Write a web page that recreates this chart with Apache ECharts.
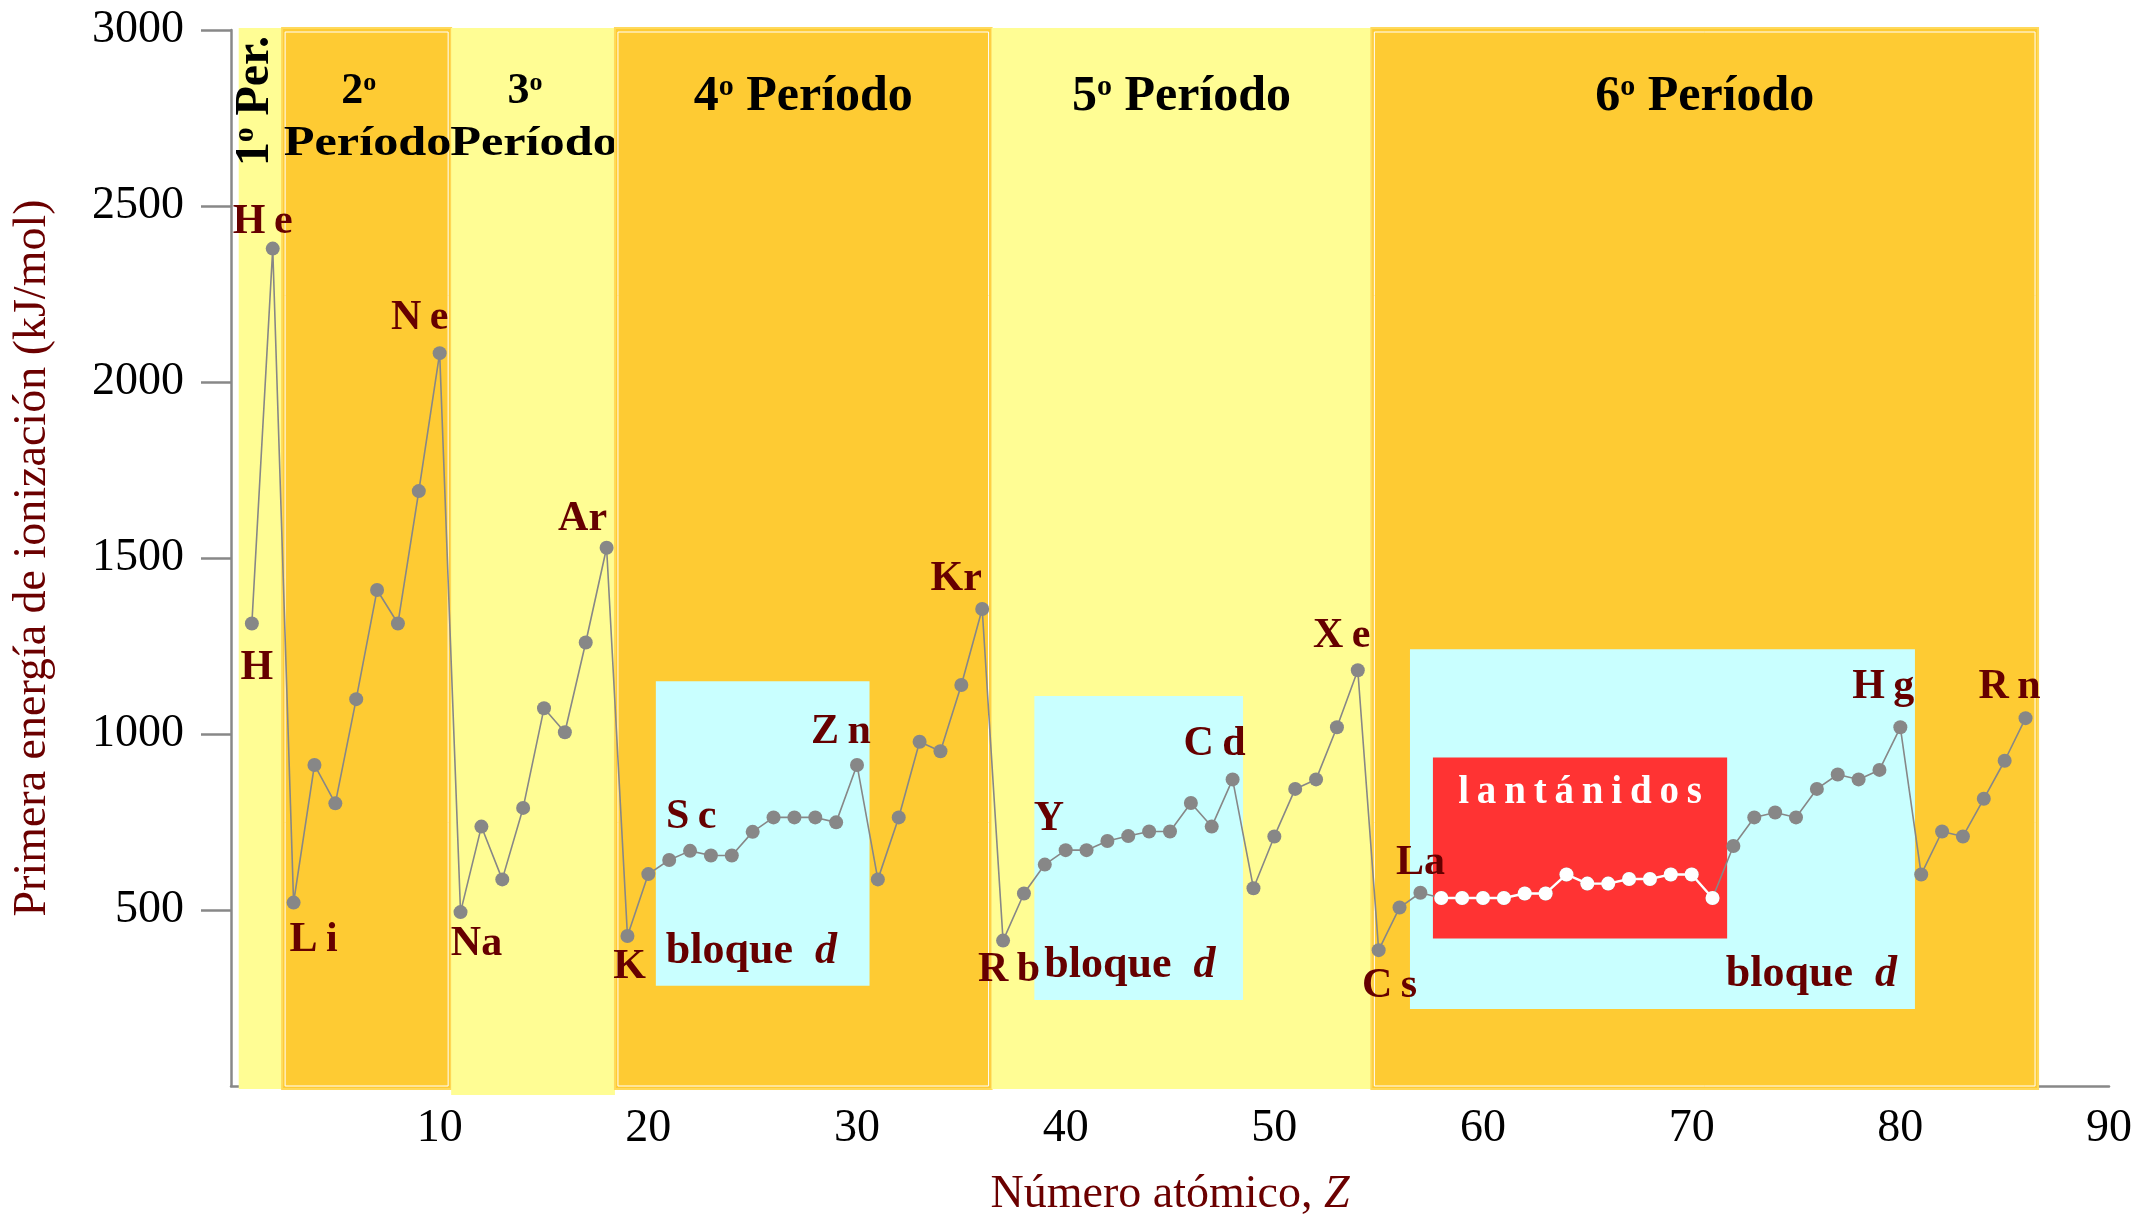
<!DOCTYPE html>
<html>
<head>
<meta charset="utf-8">
<script src="https://cdn.jsdelivr.net/npm/echarts@6/dist/echarts.min.js"></script>
<style>
  html, body { margin: 0; padding: 0; background: #ffffff; }
  #chart { width: 2141px; height: 1223px; }
</style>
</head>
<body>
<div id="chart"></div>
<script>
// ---- Data: first ionization energy (kJ/mol) by atomic number ----
const atomicNumber = [
  1, 2, 3, 4, 5, 6, 7, 8, 9, 10, 11, 12, 13, 14, 15, 16, 17, 18,
  19, 20, 21, 22, 23, 24, 25, 26, 27, 28, 29, 30, 31, 32, 33, 34, 35, 36,
  37, 38, 39, 40, 41, 42, 43, 44, 45, 46, 47, 48, 49, 50, 51, 52, 53, 54,
  55, 56, 57, 58, 59, 60, 61, 62, 63, 64, 65, 66, 67, 68, 69, 70, 71,
  72, 73, 74, 75, 76, 77, 78, 79, 80, 81, 82, 83, 84, 85, 86
];
const elementSymbol = [
  'H', 'He', 'Li', 'Be', 'B', 'C', 'N', 'O', 'F', 'Ne', 'Na', 'Mg', 'Al', 'Si', 'P', 'S', 'Cl', 'Ar',
  'K', 'Ca', 'Sc', 'Ti', 'V', 'Cr', 'Mn', 'Fe', 'Co', 'Ni', 'Cu', 'Zn', 'Ga', 'Ge', 'As', 'Se', 'Br', 'Kr',
  'Rb', 'Sr', 'Y', 'Zr', 'Nb', 'Mo', 'Tc', 'Ru', 'Rh', 'Pd', 'Ag', 'Cd', 'In', 'Sn', 'Sb', 'Te', 'I', 'Xe',
  'Cs', 'Ba', 'La', 'Ce', 'Pr', 'Nd', 'Pm', 'Sm', 'Eu', 'Gd', 'Tb', 'Dy', 'Ho', 'Er', 'Tm', 'Yb', 'Lu',
  'Hf', 'Ta', 'W', 'Re', 'Os', 'Ir', 'Pt', 'Au', 'Hg', 'Tl', 'Pb', 'Bi', 'Po', 'At', 'Rn'
];
const ionizationEnergy = [
  1314, 2379, 521, 912, 803, 1099, 1409, 1314, 1690, 2082, 494, 737, 587, 790, 1073, 1005, 1260, 1529,
  426, 602, 642, 668, 655, 655, 722, 763, 763, 763, 749, 912, 587, 763, 978, 951, 1139, 1355,
  413, 547, 629, 670, 670, 696, 710, 723, 723, 804, 737, 871, 562, 709, 844, 871, 1019, 1181,
  386, 507, 549, 534, 534, 534, 534, 547, 547, 601, 575, 575, 588, 588, 601, 601, 534,
  682, 763, 777, 763, 844, 885, 871, 898, 1019, 601, 723, 709, 816, 924, 1045
];

// Lanthanides (Ce .. Lu), drawn in white
const lanthanideFirst = 58;
const lanthanideLast = 71;

// Elements whose symbol is written next to the point
const labelledElements = ['H', 'He', 'Li', 'Ne', 'Na', 'Ar', 'K', 'Sc', 'Zn', 'Kr',
                          'Rb', 'Y', 'Cd', 'Xe', 'Cs', 'La', 'Hg', 'Rn'];

// Period bands along Z and their titles
const periodEdges = [0.37, 2.45, 10.55, 18.4, 36.45, 54.65, 86.6];
const periodOrdinal = ['1', '2', '3', '4', '5', '6'];

// d-block regions [Z from, Z to, energy low, energy high] and the lanthanide region
const dBlockRegions = [
  [20.36, 30.6, 285, 1150],
  [38.5, 48.5, 244, 1108],
  [56.5, 80.7, 219, 1241]
];
const lanthanideRegion = [57.6, 71.7, 419, 933];

// Axis ticks
const energyTicks = [500, 1000, 1500, 2000, 2500, 3000];
const zTicks = [10, 20, 30, 40, 50, 60, 70, 80, 90];

// ---- Styling ----
const SERIF = '"Liberation Serif", "Times New Roman", Times, serif';
const DARK_RED = '#660000';
const LIGHT_BAND = '#FFFD94';
const DARK_BAND = '#FECB33';
const D_BLOCK = '#C9FFFF';
const LANTH = '#FF3333';
const POINT_GREY = '#878787';
const AXIS_GREY = '#888888';
const THIN = '\u2009';

// pixel offsets of each symbol label relative to its point
const labelOffset = {
  H: [5, 45], He: [-10, -26], Li: [20, 38], Ne: [-20, -35], Na: [16, 32], Ar: [-24, -29],
  K: [2, 31], Sc: [22, -43], Zn: [-16, -33], Kr: [-26, -30], Rb: [6, 30], Y: [4, -45],
  Cd: [-18, -35], Xe: [-16, -34], Cs: [11, 36], La: [0, -30], Hg: [-17, -40], Rn: [-16, -31]
};
// symbols drawn with a little air between their two letters
const spacedSymbols = ['He', 'Ne', 'Li', 'Rb', 'Cs', 'Xe', 'Hg', 'Rn', 'Sc', 'Zn', 'Cd'];
function symbolText(s) {
  return spacedSymbols.indexOf(s) >= 0 ? s.split('').join(THIN) : s;
}

// ---- Series data built from the arrays above ----
const allPoints = atomicNumber.map((z, i) => [z, ionizationEnergy[i]]);
const lanthanidePoints = allPoints.filter(p => p[0] >= lanthanideFirst && p[0] <= lanthanideLast);
const labelPoints = labelledElements.map(s => {
  const i = elementSymbol.indexOf(s);
  return [atomicNumber[i], ionizationEnergy[i], i];
});
const bandData = periodOrdinal.map((o, i) => [periodEdges[i], periodEdges[i + 1], i]);

const chart = echarts.init(document.getElementById('chart'), null, { renderer: 'canvas' });

function headerRich(size) {
  return {
    n: { fontSize: size, fontWeight: 'bold', fontFamily: SERIF, fill: '#000' },
    s: { fontSize: Math.round(size * 0.6), fontWeight: 'bold', fontFamily: SERIF, fill: '#000', verticalAlign: 'top' }
  };
}

function renderBand(params, api) {
  const idx = api.value(2);
  const p0 = api.coord([api.value(0), 3000]);
  const p1 = api.coord([api.value(1), 0]);
  const left = p0[0], right = p1[0];
  const top = p0[1] - 2;
  const bottom = p1[1] + (idx === 2 ? 9 : 3);
  const dark = idx % 2 === 1;
  const children = [{
    type: 'rect',
    shape: { x: left, y: top, width: right - left, height: bottom - top },
    style: { fill: dark ? DARK_BAND : LIGHT_BAND, stroke: dark ? '#FFD95A' : null, lineWidth: dark ? 2 : 0 }
  }];
  if (dark) {
    children.push({
      type: 'rect',
      shape: { x: left + 3, y: top + 4, width: right - left - 6, height: bottom - top - 7 },
      style: { fill: null, stroke: '#FFFFFF', lineWidth: 1 }
    });
  }
  const cx = (left + right) / 2;
  const ord = periodOrdinal[idx];
  if (idx === 0) {
    children.push({
      type: 'text', x: cx - 5, y: p0[1] + 71, rotation: Math.PI / 2,
      style: {
        text: '{n|' + ord + '}{s|o}{n| Per.}', rich: headerRich(48),
        align: 'center', verticalAlign: 'middle'
      }
    });
  } else if (idx === 1 || idx === 2) {
    children.push({
      type: 'text', x: cx - 8, y: p0[1] + 62,
      style: { text: '{n|' + ord + '}{s|o}', rich: headerRich(44), align: 'center', verticalAlign: 'middle' }
    });
    children.push({
      type: 'text', x: cx + 1, y: p0[1] + 114, scaleX: 1.17,
      style: { text: 'Período', fontSize: 43, fontWeight: 'bold', fontFamily: SERIF, fill: '#000', align: 'center', verticalAlign: 'middle' }
    });
  } else {
    children.push({
      type: 'text', x: cx, y: p0[1] + 67,
      style: { text: '{n|' + ord + '}{s|o}{n| Período}', rich: headerRich(50), align: 'center', verticalAlign: 'middle' }
    });
  }
  return { type: 'group', children: children };
}

function renderDBlock(params, api) {
  const idx = params.dataIndex;
  const p0 = api.coord([api.value(0), api.value(3)]);
  const p1 = api.coord([api.value(1), api.value(2)]);
  const rightAligned = idx === 2;
  return {
    type: 'group',
    children: [{
      type: 'rect',
      shape: { x: p0[0], y: p0[1], width: p1[0] - p0[0], height: p1[1] - p0[1] },
      style: { fill: D_BLOCK }
    }, {
      type: 'text',
      x: rightAligned ? p1[0] - 18 : p0[0] + 10,
      y: p1[1] - 34,
      style: {
        text: '{b|bloque  }{i|d}',
        rich: {
          b: { fontSize: 44, fontWeight: 'bold', fontFamily: SERIF, fill: DARK_RED },
          i: { fontSize: 44, fontWeight: 'bold', fontStyle: 'italic', fontFamily: SERIF, fill: DARK_RED }
        },
        align: rightAligned ? 'right' : 'left', verticalAlign: 'middle'
      }
    }]
  };
}

function renderLanthanideBox(params, api) {
  const p0 = api.coord([api.value(0), api.value(3)]);
  const p1 = api.coord([api.value(1), api.value(2)]);
  return {
    type: 'group',
    children: [{
      type: 'rect',
      shape: { x: p0[0], y: p0[1], width: p1[0] - p0[0], height: p1[1] - p0[1] },
      style: { fill: LANTH }
    }, {
      type: 'text',
      x: (p0[0] + p1[0]) / 2, y: p0[1] + 35,
      style: {
        text: 'lantánidos'.split('').join(THIN),
        fontSize: 39, fontWeight: 'bold', fontFamily: SERIF, fill: '#FFFFFF',
        align: 'center', verticalAlign: 'middle'
      }
    }]
  };
}

// element symbol written beside its point
function renderSymbol(params, api) {
  const p = api.coord([api.value(0), api.value(1)]);
  const s = elementSymbol[api.value(2)];
  const off = labelOffset[s];
  return {
    type: 'text',
    x: p[0] + off[0], y: p[1] + off[1],
    style: {
      text: symbolText(s),
      fontSize: 42, fontWeight: 'bold', fontFamily: SERIF, fill: DARK_RED,
      align: 'center', verticalAlign: 'middle'
    }
  };
}

const option = {
  backgroundColor: '#ffffff',
  animation: false,
  grid: { left: 231, right: 32, top: 30, bottom: 137, containLabel: false },
  xAxis: {
    type: 'value', min: 0, max: 90, interval: 10,
    name: '{r|Número atómico, }{i|Z}',
    nameLocation: 'middle', nameGap: 86,
    nameTextStyle: {
      rich: {
        r: { fontSize: 46, fontFamily: SERIF, color: '#6B0000' },
        i: { fontSize: 46, fontFamily: SERIF, fontStyle: 'italic', color: '#6B0000' }
      }
    },
    axisLine: { show: true, lineStyle: { color: AXIS_GREY, width: 2.5 } },
    axisTick: { show: false },
    splitLine: { show: false },
    axisLabel: {
      customValues: zTicks, margin: 20,
      formatter: v => String(v),
      fontSize: 46, fontFamily: SERIF, color: '#000000'
    }
  },
  yAxis: {
    type: 'value', min: 0, max: 3000, interval: 500,
    name: 'Primera energía de ionización (kJ/mol)',
    nameLocation: 'middle', nameGap: 175, nameRotate: 90,
    nameTextStyle: { fontSize: 46, fontFamily: SERIF, color: '#6B0000' },
    axisLine: { show: true, lineStyle: { color: AXIS_GREY, width: 2.5 } },
    axisTick: { show: true, customValues: energyTicks, length: 30, lineStyle: { color: AXIS_GREY, width: 2.5 } },
    splitLine: { show: false },
    axisLabel: {
      customValues: energyTicks, margin: 47,
      formatter: v => String(v),
      fontSize: 46, fontFamily: SERIF, color: '#000000'
    }
  },
  series: [
    {
      type: 'custom', name: 'Períodos', z: 1, silent: true, clip: false,
      renderItem: renderBand,
      encode: { x: [0, 1] },
      data: bandData
    },
    {
      type: 'custom', name: 'Bloque d', z: 2, silent: true, clip: false,
      renderItem: renderDBlock,
      encode: { x: [0, 1], y: [2, 3] },
      data: dBlockRegions
    },
    {
      type: 'custom', name: 'Lantánidos', z: 3, silent: true, clip: false,
      renderItem: renderLanthanideBox,
      encode: { x: [0, 1], y: [2, 3] },
      data: [lanthanideRegion]
    },
    {
      type: 'line', name: 'Energía de ionización', z: 4,
      data: allPoints,
      symbol: 'circle', symbolSize: 14, showAllSymbol: true,
      lineStyle: { color: POINT_GREY, width: 1.6 },
      itemStyle: { color: POINT_GREY, borderWidth: 0 }
    },
    {
      type: 'line', name: 'Lantánidos (puntos)', z: 5,
      data: lanthanidePoints,
      symbol: 'circle', symbolSize: 14, showAllSymbol: true,
      lineStyle: { color: '#FFFFFF', width: 2.4 },
      itemStyle: { color: '#FFFFFF', borderWidth: 0 }
    },
    {
      type: 'custom', name: 'Símbolos', z: 6, silent: true, clip: false,
      renderItem: renderSymbol,
      encode: { x: 0, y: 1 },
      data: labelPoints
    }
  ]
};

chart.setOption(option);
</script>
</body>
</html>
